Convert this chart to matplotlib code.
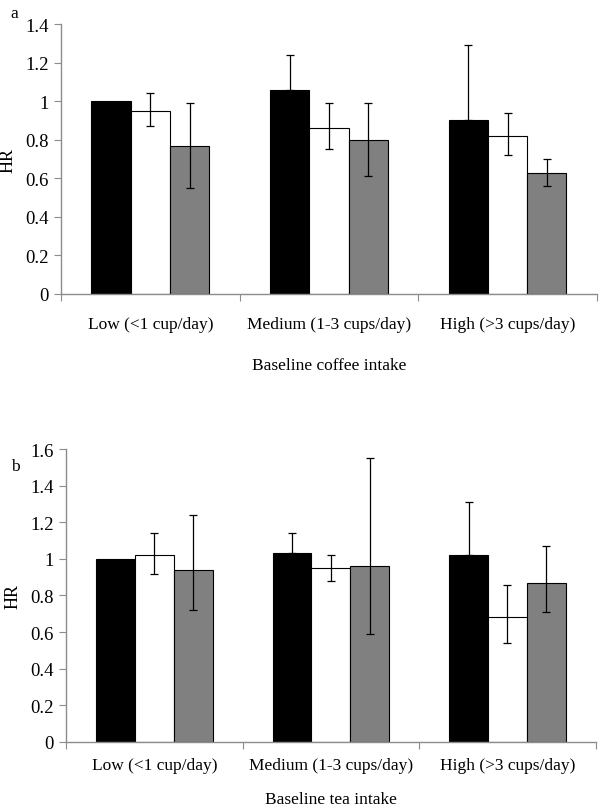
import matplotlib
matplotlib.use("Agg")
import matplotlib.pyplot as plt
import numpy as np

plt.rcParams["font.family"] = ["Liberation Serif", "DejaVu Serif"]

categories = ["Low (<1 cup/day)", "Medium (1-3 cups/day)", "High (>3 cups/day)"]

# panel a: coffee
coffee_black = [1.00, 1.06, 0.90]
coffee_black_lo = [1.00, 1.06, 0.90]
coffee_black_hi = [1.00, 1.24, 1.29]
coffee_white = [0.95, 0.86, 0.82]
coffee_white_lo = [0.87, 0.75, 0.72]
coffee_white_hi = [1.04, 0.99, 0.94]
coffee_gray = [0.77, 0.80, 0.63]
coffee_gray_lo = [0.55, 0.61, 0.56]
coffee_gray_hi = [0.99, 0.99, 0.70]

# panel b: tea
tea_black = [1.00, 1.03, 1.02]
tea_black_lo = [1.00, 1.03, 1.02]
tea_black_hi = [1.00, 1.14, 1.31]
tea_white = [1.02, 0.95, 0.68]
tea_white_lo = [0.92, 0.88, 0.54]
tea_white_hi = [1.14, 1.02, 0.86]
tea_gray = [0.94, 0.96, 0.87]
tea_gray_lo = [0.72, 0.59, 0.71]
tea_gray_hi = [1.24, 1.55, 1.07]

FILLS = ["black", "white", "#808080"]
SPINE = "#8c8c8c"


def draw_panel(ax, series, ylim, ystep, xlabel, tick_pad, xlabel_pad):
    x = np.arange(len(categories))
    w = 0.22
    for k, (vals, lo, hi) in enumerate(series):
        pos = x + (k - 1) * w
        vals = np.array(vals)
        err = [vals - np.array(lo), np.array(hi) - vals]
        ax.bar(pos, vals, w, color=FILLS[k], edgecolor="black", linewidth=0.8, zorder=2)
        has = (err[0] > 0) | (err[1] > 0)
        ax.errorbar(pos[has], vals[has], yerr=[err[0][has], err[1][has]], fmt="none",
                    ecolor="black", elinewidth=0.9, capsize=3, capthick=0.9, zorder=3)
    ax.set_xlim(-0.5, len(categories) - 0.5)
    ax.set_ylim(*ylim)
    ticks = np.arange(0, ylim[1] + 1e-9, ystep)
    ax.set_yticks(ticks)
    ax.set_yticklabels([f"{t:g}" for t in ticks])
    ax.set_xticks(np.arange(-0.5, len(categories)))
    ax.set_xticklabels([])
    ax.set_xticks(x, minor=True)
    ax.set_xticklabels(categories, minor=True)
    ax.tick_params(axis="x", which="minor", length=0, pad=tick_pad, labelsize=12.5)
    ax.tick_params(axis="x", which="major", length=5, color=SPINE, direction="out")
    ax.tick_params(axis="y", length=5, color=SPINE, labelsize=13.5, pad=4)
    for s in ["top", "right"]:
        ax.spines[s].set_visible(False)
    for s in ["left", "bottom"]:
        ax.spines[s].set_color(SPINE)
        ax.spines[s].set_linewidth(1.0)
    ax.set_ylabel("HR", fontsize=13, labelpad=6)
    ax.set_xlabel(xlabel, fontsize=12.5, labelpad=xlabel_pad)


fig = plt.figure(figsize=(6, 8.12), dpi=100)
ax1 = fig.add_axes([0.1017, 0.6367, 0.893, 0.3325])
ax2 = fig.add_axes([0.11, 0.085, 0.883, 0.3608])

draw_panel(ax1,
           [(coffee_black, coffee_black_lo, coffee_black_hi),
            (coffee_white, coffee_white_lo, coffee_white_hi),
            (coffee_gray, coffee_gray_lo, coffee_gray_hi)],
           (0, 1.4), 0.2, "Baseline coffee intake", 16, 18)
draw_panel(ax2,
           [(tea_black, tea_black_lo, tea_black_hi),
            (tea_white, tea_white_lo, tea_white_hi),
            (tea_gray, tea_gray_lo, tea_gray_hi)],
           (0, 1.6), 0.2, "Baseline tea intake", 11, 13)

fig.text(0.018, 0.992, "a", fontsize=12.5, va="top")
fig.text(0.018, 0.435, "b", fontsize=12.5, va="top")

fig.savefig("out.png", dpi=100)
